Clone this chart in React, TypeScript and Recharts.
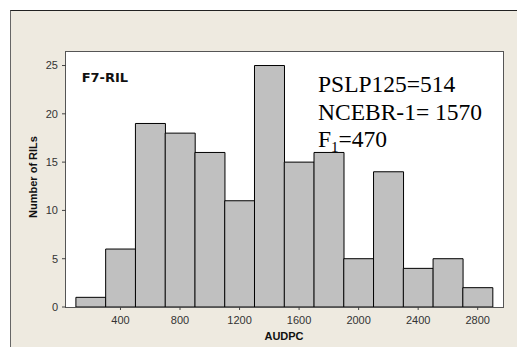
import React from 'react';
import { BarChart, Bar, XAxis, YAxis } from 'recharts';

// Histogram bins (centre of each 200-wide AUDPC class) and the number of RILs in each
const binCenters = [200, 400, 600, 800, 1000, 1200, 1400, 1600, 1800, 2000, 2200, 2400, 2600, 2800];
const counts = [1, 6, 19, 18, 16, 11, 25, 15, 16, 5, 14, 4, 5, 2];
const xTicks = [400, 800, 1200, 1600, 2000, 2400, 2800];
const yTicks = [0, 5, 10, 15, 20, 25];
const panelLabel = 'F7-RIL';
const parentLines = ['PSLP125=514', 'NCEBR-1= 1570'];
const f1Value = '=470';
const xTitle = 'AUDPC';
const yTitle = 'Number of RILs';

const data = binCenters.map((c, i) => ({ bin: String(c), center: c, count: counts[i] }));

const sans = '"Liberation Sans", Arial, sans-serif';
const serif = '"Liberation Serif", "Times New Roman", serif';

export default function App() {
  return (
    <div style={{ position: 'absolute', left: 0, top: 0, width: 517, height: 347, background: '#fff', overflow: 'hidden' }}>
      <div
        style={{
          position: 'absolute', left: 10, top: 10, width: 520, height: 350,
          background: '#EEEAE0', borderTop: '1px solid #222', borderLeft: '1px solid #666',
        }}
      />
      <div
        style={{
          position: 'absolute', left: 65, top: 51, width: 439, height: 257,
          background: '#fff', border: '1px solid #555', boxSizing: 'border-box',
        }}
      />
      <div style={{ position: 'absolute', left: 0, top: 0 }}>
        <BarChart
          width={517}
          height={347}
          data={data}
          margin={{ top: 52, right: 14, bottom: 0, left: 0 }}
          barCategoryGap={0}
          barGap={0}
        >
          <XAxis
            xAxisId="num"
            dataKey="center"
            type="number"
            domain={[34, 2970]}
            ticks={xTicks}
            allowDataOverflow
            height={40}
            tickSize={3}
            tickMargin={6}
            axisLine={false}
            tickLine={{ stroke: '#444' }}
            tick={{ fill: '#333', fontSize: 11, fontFamily: sans }}
          />
          <XAxis xAxisId="cat" dataKey="bin" hide height={0} padding={{ left: 9.9, right: 10.4 }} />
          <YAxis
            type="number"
            domain={[0, 26.4]}
            ticks={yTicks}
            allowDataOverflow
            width={66}
            tickSize={4}
            tickMargin={4}
            axisLine={false}
            tickLine={{ stroke: '#444' }}
            tick={{ fill: '#333', fontSize: 11, fontFamily: sans }}
          />
          <Bar
            xAxisId="cat"
            dataKey="count"
            fill="#C0C0C0"
            stroke="#000"
            strokeWidth={1}
            isAnimationActive={false}
          />
          <text x={81.7} y={81.7} fontFamily='"DejaVu Sans", sans-serif' fontWeight="bold" fontSize={13} fill="#111">
            {panelLabel}
          </text>
          <text x={318} y={92} fontFamily={serif} fontSize={23.5} fill="#000">{parentLines[0]}</text>
          <text x={318} y={119.5} fontFamily={serif} fontSize={23.5} fill="#000">{parentLines[1]}</text>
          <text x={318} y={146.5} fontFamily={serif} fontSize={23.5} fill="#000">
            F<tspan fontSize={15} dy={5}>1</tspan><tspan dy={-5}>{f1Value}</tspan>
          </text>
          <text x={284} y={340} textAnchor="middle" fontFamily={sans} fontWeight="bold" fontSize={11} fill="#111">
            {xTitle}
          </text>
          <text
            x={37}
            y={177}
            textAnchor="middle"
            transform="rotate(-90 37 177)"
            fontFamily={sans}
            fontWeight="bold"
            fontSize={11}
            fill="#111"
          >
            {yTitle}
          </text>
        </BarChart>
      </div>
    </div>
  );
}
